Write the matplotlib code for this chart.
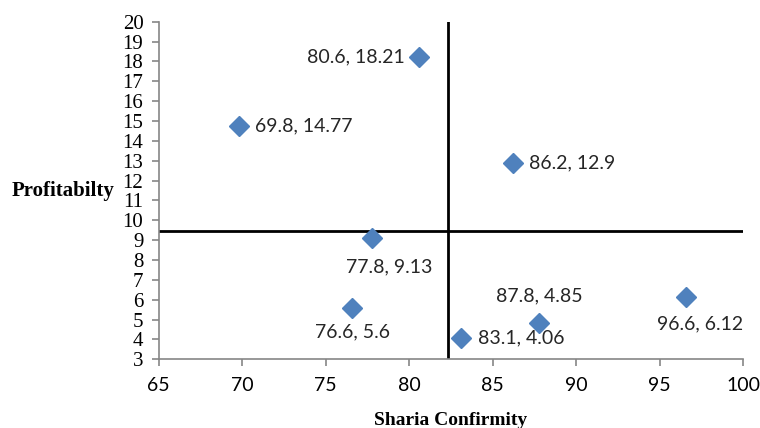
import matplotlib
matplotlib.use("Agg")
import matplotlib.pyplot as plt

# Data
sharia = [80.6, 69.8, 86.2, 77.8, 76.6, 83.1, 87.8, 96.6]
profit = [18.21, 14.77, 12.9, 9.13, 5.6, 4.06, 4.85, 6.12]
labels = ["80.6, 18.21", "69.8, 14.77", "86.2, 12.9", "77.8, 9.13",
          "76.6, 5.6", "83.1, 4.06", "87.8, 4.85", "96.6, 6.12"]
x_ticks = [65, 70, 75, 80, 85, 90, 95, 100]
y_ticks = list(range(3, 21))

mean_x = sum(sharia) / len(sharia)
mean_y = sum(profit) / len(profit)

# label placement (offset in points, ha, va)
placement = [(-10, 0, "right", "center"),
             (12, 0, "left", "center"),
             (12, 0, "left", "center"),
             (12, -15, "center", "top"),
             (0, -11, "center", "top"),
             (12, 0, "left", "center"),
             (0, 13, "center", "bottom"),
             (10, -13, "center", "top")]

fig = plt.figure(figsize=(7.6, 4.28), dpi=100)
ax = fig.add_axes([0.2088, 0.1605, 0.7688, 0.7888])

ax.set_xlim(65, 100)
ax.set_ylim(3, 20)

ax.axvline(mean_x, color="black", lw=2, zorder=1)
ax.axhline(mean_y, color="black", lw=2, zorder=1)

ax.plot(sharia, profit, linestyle="none", marker="D", markersize=10,
        color="#4F81BD", markeredgecolor="#4F81BD", zorder=3)

lab_font = "Lato"
for xv, yv, t, (dx, dy, ha, va) in zip(sharia, profit, labels, placement):
    ax.annotate(t, (xv, yv), xytext=(dx, dy), textcoords="offset points",
                ha=ha, va=va, fontsize=14, family=lab_font, color="#262626")

ax.set_xticks(x_ticks)
ax.set_yticks(y_ticks)
ax.set_xticklabels([str(v) for v in x_ticks], family=lab_font, fontsize=14)
ax.set_yticklabels([str(v) for v in y_ticks], family="Liberation Serif", fontsize=15)

for s in ["top", "right"]:
    ax.spines[s].set_visible(False)
for s in ["left", "bottom"]:
    ax.spines[s].set_color("#868686")
    ax.spines[s].set_linewidth(1.2)
ax.tick_params(axis="both", direction="out", length=5, width=1.2, color="#868686")
ax.tick_params(axis="y", pad=6)
ax.tick_params(axis="x", pad=8)

ax.set_xlabel("Sharia Confirmity", family="Liberation Serif", fontweight="bold",
              fontsize=14, labelpad=13)
ax.set_ylabel("Profitabilty", family="Liberation Serif", fontweight="bold",
              fontsize=15, rotation=0, ha="right", va="center", labelpad=6)

fig.savefig("out.png", dpi=100)
